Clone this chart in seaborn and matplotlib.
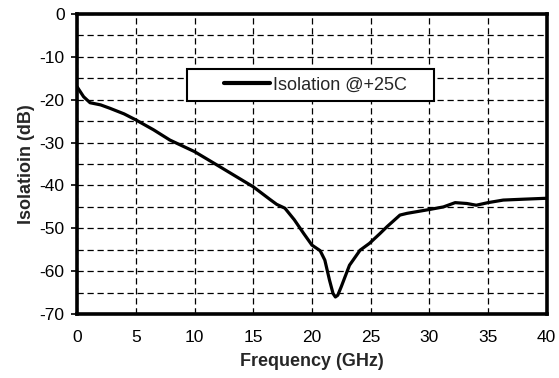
import numpy as np
import pandas as pd
import seaborn as sns
import matplotlib.pyplot as plt
from matplotlib.legend_handler import HandlerLine2D

# values
freq_ghz = [0, 0.55, 1.1, 2.0, 2.8, 4.0, 5.0, 6.5, 7.9, 10.0, 11.9, 13.6,
            15.0, 16.4, 17.0, 17.7, 18.5, 19.3, 20.0, 20.7, 21.1, 21.5,
            21.8, 22.0, 22.2, 22.5, 23.2, 24.1, 24.9, 25.8, 26.4, 27.5,
            28.1, 30.0, 31.2, 32.2, 33.2, 34.0, 35.0, 36.3, 38.0, 39.8, 40]
isolation_db = [-17.0, -19.3, -20.7, -21.2, -22.0, -23.3, -24.7, -27.0,
                -29.4, -32.1, -35.2, -38.0, -40.3, -43.2, -44.4, -45.3,
                -48.0, -51.2, -53.9, -55.2, -57.4, -62.1, -65.2, -66.0,
                -65.6, -63.6, -58.6, -55.1, -53.5, -51.2, -49.6, -46.9,
                -46.5, -45.6, -45.0, -44.0, -44.2, -44.6, -44.0, -43.4,
                -43.2, -43.0, -43.0]

x_ticks = [0, 5, 10, 15, 20, 25, 30, 35, 40]
y_ticks = [0, -10, -20, -30, -40, -50, -60, -70]

df = pd.DataFrame({"Frequency (GHz)": freq_ghz, "Isolation": isolation_db})

sns.set_style("white")
plt.rcParams["font.family"] = ["Liberation Sans", "DejaVu Sans"]
plt.rcParams["axes.unicode_minus"] = False

fig, ax = plt.subplots(figsize=(5.59, 3.78), dpi=100)
fig.subplots_adjust(left=0.138, right=0.978, top=0.963, bottom=0.169)

sns.lineplot(data=df, x="Frequency (GHz)", y="Isolation", color="black",
             linewidth=2.3, ax=ax)

ax.set_xlim(0, 40)
ax.set_ylim(-70, 0)
ax.set_xticks(x_ticks)
ax.set_yticks(y_ticks)
ax.set_yticks(np.arange(-65, 0, 10), minor=True)
ax.grid(True, which="both", color="black", linestyle=(0, (5, 3)), linewidth=0.9)
ax.tick_params(axis="both", labelsize=12.5, colors="black")
ax.tick_params(axis="y", which="major", length=4.5, width=1.2, direction="out",
               left=True, pad=4.5)
ax.tick_params(axis="y", which="minor", length=0)
ax.tick_params(axis="x", length=0, pad=11.5)
for s in ax.spines.values():
    s.set_linewidth(2.6)
    s.set_color("black")

ax.set_xlabel("Frequency (GHz)", fontsize=13, fontweight="bold", labelpad=6)
ax.set_ylabel("Isolatioin (dB)", fontsize=13, fontweight="bold", labelpad=3)

# xpad on the handler and trailing spaces give the box its wide side margins
line = ax.get_lines()[0]
leg = ax.legend([line], ["Isolation @+25C    "], loc="center",
                bbox_to_anchor=(0.497, 0.763), fontsize=13, frameon=True,
                fancybox=False, framealpha=1, borderpad=0.4, handlelength=4.2,
                handletextpad=0.15, borderaxespad=0,
                handler_map={line: HandlerLine2D(xpad=1.65)})
leg.get_frame().set_edgecolor("black")
leg.get_frame().set_linewidth(1.5)
for h in leg.legend_handles:
    h.set_linewidth(3.0)

plt.savefig("out.png", dpi=100)
